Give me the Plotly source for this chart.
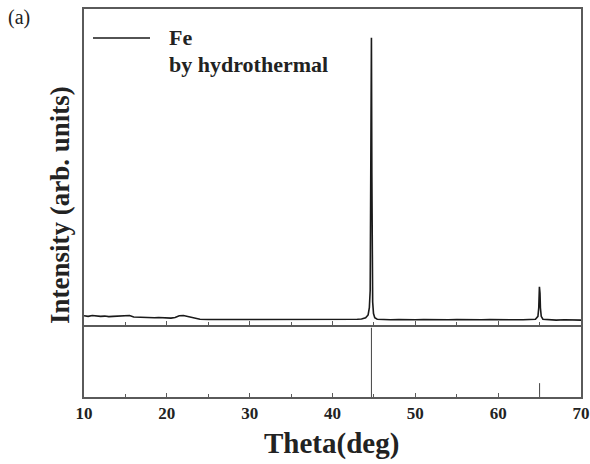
import plotly.graph_objects as go
from plotly.subplots import make_subplots

# XRD pattern, intensity in arb. units (peak = 100)
theta = [10.0, 10.5, 11.0, 11.5, 12.0, 12.5, 13.0, 13.5, 14.0, 14.5, 15.0, 15.5,
         16.0, 16.5, 17.0, 17.5, 18.0, 18.5, 19.0, 19.5, 20.0, 20.5, 21.0, 21.5,
         22.0, 22.5, 23.0, 23.5, 24.0, 25.0, 26.0, 27.0, 28.0, 29.0, 30.0, 31.0,
         32.0, 33.0, 34.0, 35.0, 36.0, 37.0, 38.0, 39.0, 40.0, 41.0, 42.0, 43.0,
         43.5, 44.0, 44.3, 44.45, 44.55, 44.6, 44.65, 44.7, 44.75, 44.8, 44.85,
         44.95, 45.1, 45.4, 46.0, 47.0, 48.0, 49.0, 50.0, 51.0, 52.0, 53.0, 54.0,
         55.0, 56.0, 57.0, 58.0, 59.0, 60.0, 61.0, 62.0, 63.0, 64.0, 64.5, 64.8,
         64.9, 64.98, 65.05, 65.1, 65.2, 65.4, 66.0, 67.0, 68.0, 69.0, 70.0]
intensity = [3.2, 3.0, 3.3, 3.1, 3.0, 3.1, 2.9, 3.0, 3.1, 3.3, 3.2, 3.3,
             2.8, 2.7, 2.8, 2.5, 2.6, 2.5, 2.6, 2.5, 2.5, 2.4, 2.6, 3.2,
             3.3, 3.0, 2.6, 2.2, 2.0, 1.9, 1.9, 1.9, 1.9, 1.8, 1.9, 1.8,
             1.8, 1.8, 1.9, 1.8, 1.8, 1.9, 1.8, 1.8, 1.9, 1.9, 1.9, 2.0,
             2.1, 2.5, 3.5, 6.0, 12.0, 46.0, 100.0, 100.0, 53.0, 12.0, 8.0,
             4.0, 2.5, 2.0, 1.9, 1.8, 1.9, 1.8, 1.8, 1.9, 1.8, 1.8, 1.8,
             1.9, 1.8, 1.8, 1.8, 1.9, 1.8, 1.8, 1.8, 1.8, 1.8, 2.0, 3.0,
             6.0, 13.3, 11.0, 6.0, 3.0, 2.0, 1.8, 1.7, 1.8, 1.7, 1.7]

# Reference stick pattern
ref_theta = [44.7, 65.0]
ref_int = [100, 20]

tick_vals = [10, 20, 30, 40, 50, 60, 70]
tick_text = ["10", "20", "30", "40", "50", "60", "70"]

SERIF = "Liberation Serif"
FRAME = "#5a5a5a"

fig = make_subplots(rows=2, cols=1, shared_xaxes=False, vertical_spacing=0,
                    row_heights=[0.8144, 0.1856])

fig.add_trace(go.Scatter(x=theta, y=intensity, mode="lines",
                         line=dict(color="#1a1a1a", width=1.6),
                         showlegend=False), row=1, col=1)

sx, sy = [], []
for t, v in zip(ref_theta, ref_int):
    sx += [t, t, None]
    sy += [0, v, None]
fig.add_trace(go.Scatter(x=sx, y=sy, mode="lines",
                         line=dict(color="#444444", width=1),
                         showlegend=False), row=2, col=1)

common_x = dict(range=[10, 70], showline=True, linecolor=FRAME, linewidth=1.5,
                ticks="inside", ticklen=4, tickwidth=1, automargin=False,
                tickcolor=FRAME, tickvals=tick_vals, showgrid=False,
                zeroline=False,
                minor=dict(dtick=5, tick0=0, ticks="inside", ticklen=3,
                           tickcolor=FRAME, showgrid=False))
fig.update_xaxes(**common_x, mirror=True, showticklabels=False, row=1, col=1)
fig.update_xaxes(**common_x, mirror=False,
                 ticktext=["<b>%s</b>" % t for t in tick_text],
                 showticklabels=True,
                 tickfont=dict(family=SERIF, size=17, color="#222222"),
                 row=2, col=1)
common_y = dict(showline=True, linecolor=FRAME, linewidth=1.5, automargin=False,
                mirror=True, ticks="", showticklabels=False, showgrid=False,
                zeroline=False)
fig.update_yaxes(range=[0, 110], **common_y, row=1, col=1)
fig.update_yaxes(range=[0, 104], **common_y, row=2, col=1)

fig.update_layout(
    width=590, height=464, autosize=False,
    margin=dict(l=84, r=9, t=9, b=67),
    plot_bgcolor="white", paper_bgcolor="white",
    showlegend=False,
)
fig.layout.yaxis.domain = [0.1856, 1.0]
fig.layout.yaxis2.domain = [0.0, 0.1856]

W, H = 497.0, 388.0
def px(x):
    return (x - 84) / W
def py(y):
    return (397 - y) / H

# legend (manual)
fig.add_shape(type="line", xref="paper", yref="paper",
              x0=px(93), x1=px(150), y0=py(38), y1=py(38),
              line=dict(color="#1a1a1a", width=1.6))
fig.add_annotation(xref="paper", yref="paper", x=px(167), y=py(38),
                   text="<b>Fe</b>", showarrow=False, xanchor="left",
                   yanchor="middle",
                   font=dict(family=SERIF, size=22, color="#222222"))
fig.add_annotation(xref="paper", yref="paper", x=px(167), y=py(64),
                   text="<b>by hydrothermal</b>", showarrow=False,
                   xanchor="left", yanchor="middle",
                   font=dict(family=SERIF, size=22, color="#222222"))

fig.add_annotation(xref="paper", yref="paper", x=px(6), y=py(17),
                   text="(a)", showarrow=False, xanchor="left",
                   yanchor="middle",
                   font=dict(family=SERIF, size=20, color="#222222"))

fig.add_annotation(xref="paper", yref="paper", x=px(60), y=py(205),
                   text="<b>Intensity (arb. units)</b>", showarrow=False,
                   textangle=-90, xanchor="center", yanchor="middle",
                   font=dict(family=SERIF, size=27, color="#222222"))
fig.add_annotation(xref="paper", yref="paper", x=px(331), y=py(443),
                   text="<b>Theta(deg)</b>", showarrow=False,
                   xanchor="center", yanchor="middle",
                   font=dict(family=SERIF, size=29, color="#222222"))

fig.write_html("out.html",
               config={"responsive": False, "displayModeBar": False},
               post_script="document.body.style.margin='0';"
                           "document.body.style.overflow='hidden';"
                           "document.documentElement.style.overflow='hidden';")
